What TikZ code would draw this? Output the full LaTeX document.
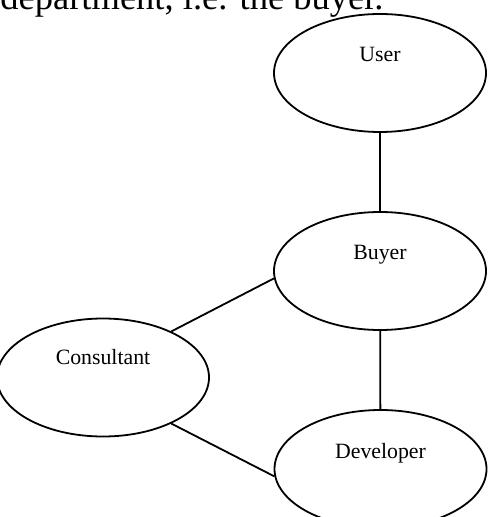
\documentclass[tikz,border=0pt]{standalone}
\usepackage{fontspec}
\setmainfont{Liberation Serif}
\usetikzlibrary{positioning, shapes.geometric}

\begin{document}
\begin{tikzpicture}[
  x=0.5pt, y=-0.5pt,
  font=\fontsize{10.9}{13}\selectfont,
  role/.style={draw, line width=0.9pt, ellipse, minimum width=106pt, minimum height=59pt, inner sep=0pt, text height=7.5pt, text depth=18.5pt, align=center},
  link/.style={line width=0.9pt},
]
\useasboundingbox (0,0) rectangle (493,517);
\node[anchor=base west, inner sep=0pt, font=\fontsize{18.25}{22}\selectfont] (heading) at (0,9.5) {department, i.e. the buyer.};
\node[role] (user) at (380,73) {User};
\node[role] (buyer) at (380,271) {Buyer};
\node[role, text depth=21pt] (consultant) at (103,377.5) {Consultant};
\node[role] (developer) at (380.5,469) {Developer};

\draw[link] (user) -- (buyer);
\draw[link] (buyer) -- (developer);
\draw[link] (consultant.34) -- (buyer.184);
\draw[link] (consultant.-34) -- (developer.184);
\end{tikzpicture}
\end{document}
